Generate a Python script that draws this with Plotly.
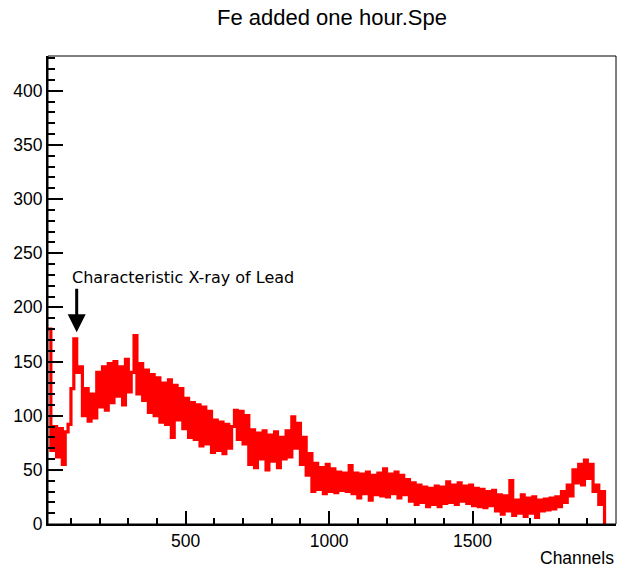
import plotly.graph_objects as go

# Bin start channels (10-channel bins) and counts
bin_start = 20
bin_width = 10
counts = [
    180, 68, 90, 62, 88, 55, 85, 92,            # 20-90
    125, 171, 140, 145, 100, 125, 95, 120, 98, 140,   # 100-190
    108, 145, 105, 148, 112, 150, 118, 145, 110, 152,  # 200-290
    122, 140, 174, 120, 148, 114, 142, 103, 138, 100,  # 300-390
    135, 94, 130, 92, 133, 80, 128, 96, 125, 88,       # 400-490
    116, 80, 112, 78, 110, 72, 108, 74, 104, 66,       # 500-590
    96, 68, 94, 65, 92, 70, 90, 105, 78, 104,          # 600-690
    74, 100, 55, 87, 52, 84, 60, 86, 50, 82,           # 700-790
    58, 85, 52, 80, 60, 86, 62, 99, 70, 93,            # 800-890
    55, 80, 45, 65, 30, 56, 32, 52, 28, 55,            # 900-990
    30, 51, 29, 48, 31, 47, 30, 54, 28, 47,            # 1000-1090
    24, 46, 28, 48, 22, 45, 27, 47, 26, 51,            # 1100-1190
    25, 46, 28, 48, 24, 45, 27, 41, 21, 38,            # 1200-1290
    18, 36, 20, 34, 16, 33, 18, 35, 16, 34,            # 1300-1390
    19, 39, 20, 36, 18, 38, 21, 35, 19, 36,            # 1400-1490
    17, 33, 16, 32, 15, 30, 17, 31, 12, 27,            # 1500-1590
    9, 26, 12, 40, 8, 22, 10, 27, 7, 24,               # 1600-1690
    10, 25, 6, 22, 12, 23, 13, 24, 14, 25,             # 1700-1790
    16, 30, 20, 36, 26, 50, 38, 55, 36, 59,            # 1800-1890
    42, 55, 30, 36, 18, 30,                            # 1900-1950
]
end_channel = 1960

x_ticks = [500, 1000, 1500, 2000]
y_ticks = [0, 50, 100, 150, 200, 250, 300, 350, 400]

title_text = "Fe added one hour.Spe"
x_title = "Channels"
note_text = "Characteristic X-ray of Lead"
note_peak_channel = 120
note_peak_count = 177

edges = [bin_start + i * bin_width for i in range(len(counts))] + [end_channel]
vals = counts + [0]

fig = go.Figure()
fig.add_trace(go.Scatter(
    x=edges, y=vals, mode="lines", line=dict(color="#ff0000", width=3.2, shape="hv"),
    showlegend=False, hoverinfo="skip"))

font_main = "Liberation Sans, Arial, sans-serif"

fig.update_layout(
    width=635, height=569,
    margin=dict(l=48, r=19, t=56, b=45),
    paper_bgcolor="white", plot_bgcolor="white",
    title=dict(text=title_text, x=0.5, xref="paper", xanchor="center",
               y=1 - 17 / 569, yref="container", yanchor="middle",
               font=dict(family=font_main, size=22, color="black")),
    xaxis=dict(range=[20, 2000], tickvals=x_ticks, ticks="inside", ticklen=13, tickwidth=2,
               tickcolor="black", showline=True, linecolor="black", linewidth=2,
               showgrid=False, zeroline=False,
               tickfont=dict(family=font_main, size=17.5, color="black"),
               minor=dict(ticks="inside", dtick=100, tick0=0, ticklen=6, tickwidth=2,
                          tickcolor="black", showgrid=False)),
    yaxis=dict(range=[0, 432], tickvals=y_ticks, ticks="inside", ticklen=15, tickwidth=2,
               tickcolor="black", showline=True, linecolor="black", linewidth=2,
               showgrid=False, zeroline=False,
               tickfont=dict(family=font_main, size=17.5, color="black"),
               minor=dict(ticks="inside", dtick=10, tick0=0, ticklen=7, tickwidth=2,
                          tickcolor="black", showgrid=False)),
)

# frame
fig.add_shape(type="rect", xref="paper", yref="paper", x0=0, x1=1, y0=0, y1=1,
              line=dict(color="black", width=1), layer="above")

# x axis title, right-aligned at the end of the axis
fig.add_annotation(text=x_title, xref="paper", yref="paper", x=1, y=0,
                   xanchor="right", yanchor="middle", yshift=-34, showarrow=False,
                   font=dict(family=font_main, size=17.5, color="black"))

# arrow to the lead X-ray peak
fig.add_annotation(x=note_peak_channel, y=note_peak_count, xref="x", yref="y",
                   text="", showarrow=True, ax=0, ay=-45, arrowhead=2, arrowsize=1.2,
                   arrowwidth=3, arrowcolor="black")
fig.add_annotation(x=95, y=227.6, xref="x", yref="y", text=note_text, showarrow=False,
                   xanchor="left", yanchor="middle",
                   font=dict(family="DejaVu Sans", size=16, color="black"))

fig.write_html("out.html")
